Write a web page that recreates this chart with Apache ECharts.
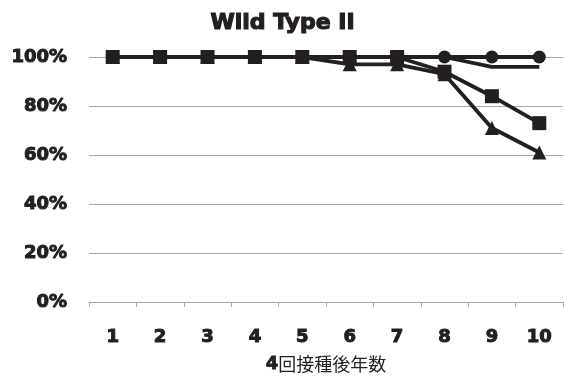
<!DOCTYPE html>
<html>
<head>
<meta charset="utf-8">
<script src="https://cdn.jsdelivr.net/npm/echarts@6/dist/echarts.min.js"></script>
<style>
  html, body { margin: 0; padding: 0; background: #fff; }
  #chart { width: 565px; height: 376px; }
</style>
</head>
<body>
<div id="chart"></div>
<script>
// Years after the 4th dose
const years = ['1', '2', '3', '4', '5', '6', '7', '8', '9', '10'];
// Percent values per group
const circleSeries   = [100, 100, 100, 100, 100, 100, 100, 100, 100, 100];
const plainSeries    = [100, 100, 100, 100, 100, 100, 100, 100, 96, 96];
const triangleSeries = [100, 100, 100, 100, 100, 97, 97, 93, 71, 61];
const squareSeries   = [100, 100, 100, 100, 100, 100, 100, 94, 84, 73];
const yTicks = [0, 20, 40, 60, 80, 100];

const ink = '#231f20';
const heavy = '"DejaVu Sans", "Liberation Sans", sans-serif';
// heavy bold text: bold face plus a thin outline in the same colour
const heavyText = (size, border) => ({
  fontFamily: heavy, fontWeight: 'bold', fontSize: size, color: ink,
  textBorderColor: ink, textBorderWidth: border
});

function line(name, data, symbol, size) {
  return {
    name, type: 'line', data,
    symbol, symbolSize: size, showSymbol: symbol !== 'none',
    lineStyle: { color: ink, width: 3.8 },
    itemStyle: { color: ink },
    animation: false
  };
}

const chart = echarts.init(document.getElementById('chart'));
chart.setOption({
  backgroundColor: '#fff',
  title: {
    text: 'Wild Type II',
    left: 'center', top: 7,
    textStyle: heavyText(22, 1.2)
  },
  grid: { left: 89, right: 2, top: 57, bottom: 74, outerBoundsMode: 'none', containLabel: false },
  xAxis: {
    type: 'category', data: years, boundaryGap: true,
    axisLine: { lineStyle: { color: '#a6a6a6', width: 1 } },
    axisTick: { show: true, length: 5, lineStyle: { color: '#a6a6a6' } },
    axisLabel: Object.assign({ margin: 26 }, heavyText(18, 1)),
    name: '{b|4}回接種後年数',
    nameLocation: 'middle', nameGap: 53,
    nameTextStyle: {
      fontFamily: '"Noto Sans CJK JP", sans-serif', fontSize: 18, color: ink,
      rich: { b: heavyText(18, 0.8) }
    }
  },
  yAxis: {
    type: 'value', min: yTicks[0], max: yTicks[yTicks.length - 1], interval: 20,
    axisLine: { show: false }, axisTick: { show: false },
    splitLine: { lineStyle: { color: '#a6a6a6', width: 1 } },
    axisLabel: Object.assign({
      margin: 22,
      formatter: v => v + '%'
    }, heavyText(18, 1))
  },
  series: [
    line('plain', plainSeries, 'none', 0),
    line('triangle', triangleSeries, 'triangle', 14),
    line('circle', circleSeries, 'circle', 13),
    line('square', squareSeries, 'rect', 14)
  ]
});
</script>
</body>
</html>
